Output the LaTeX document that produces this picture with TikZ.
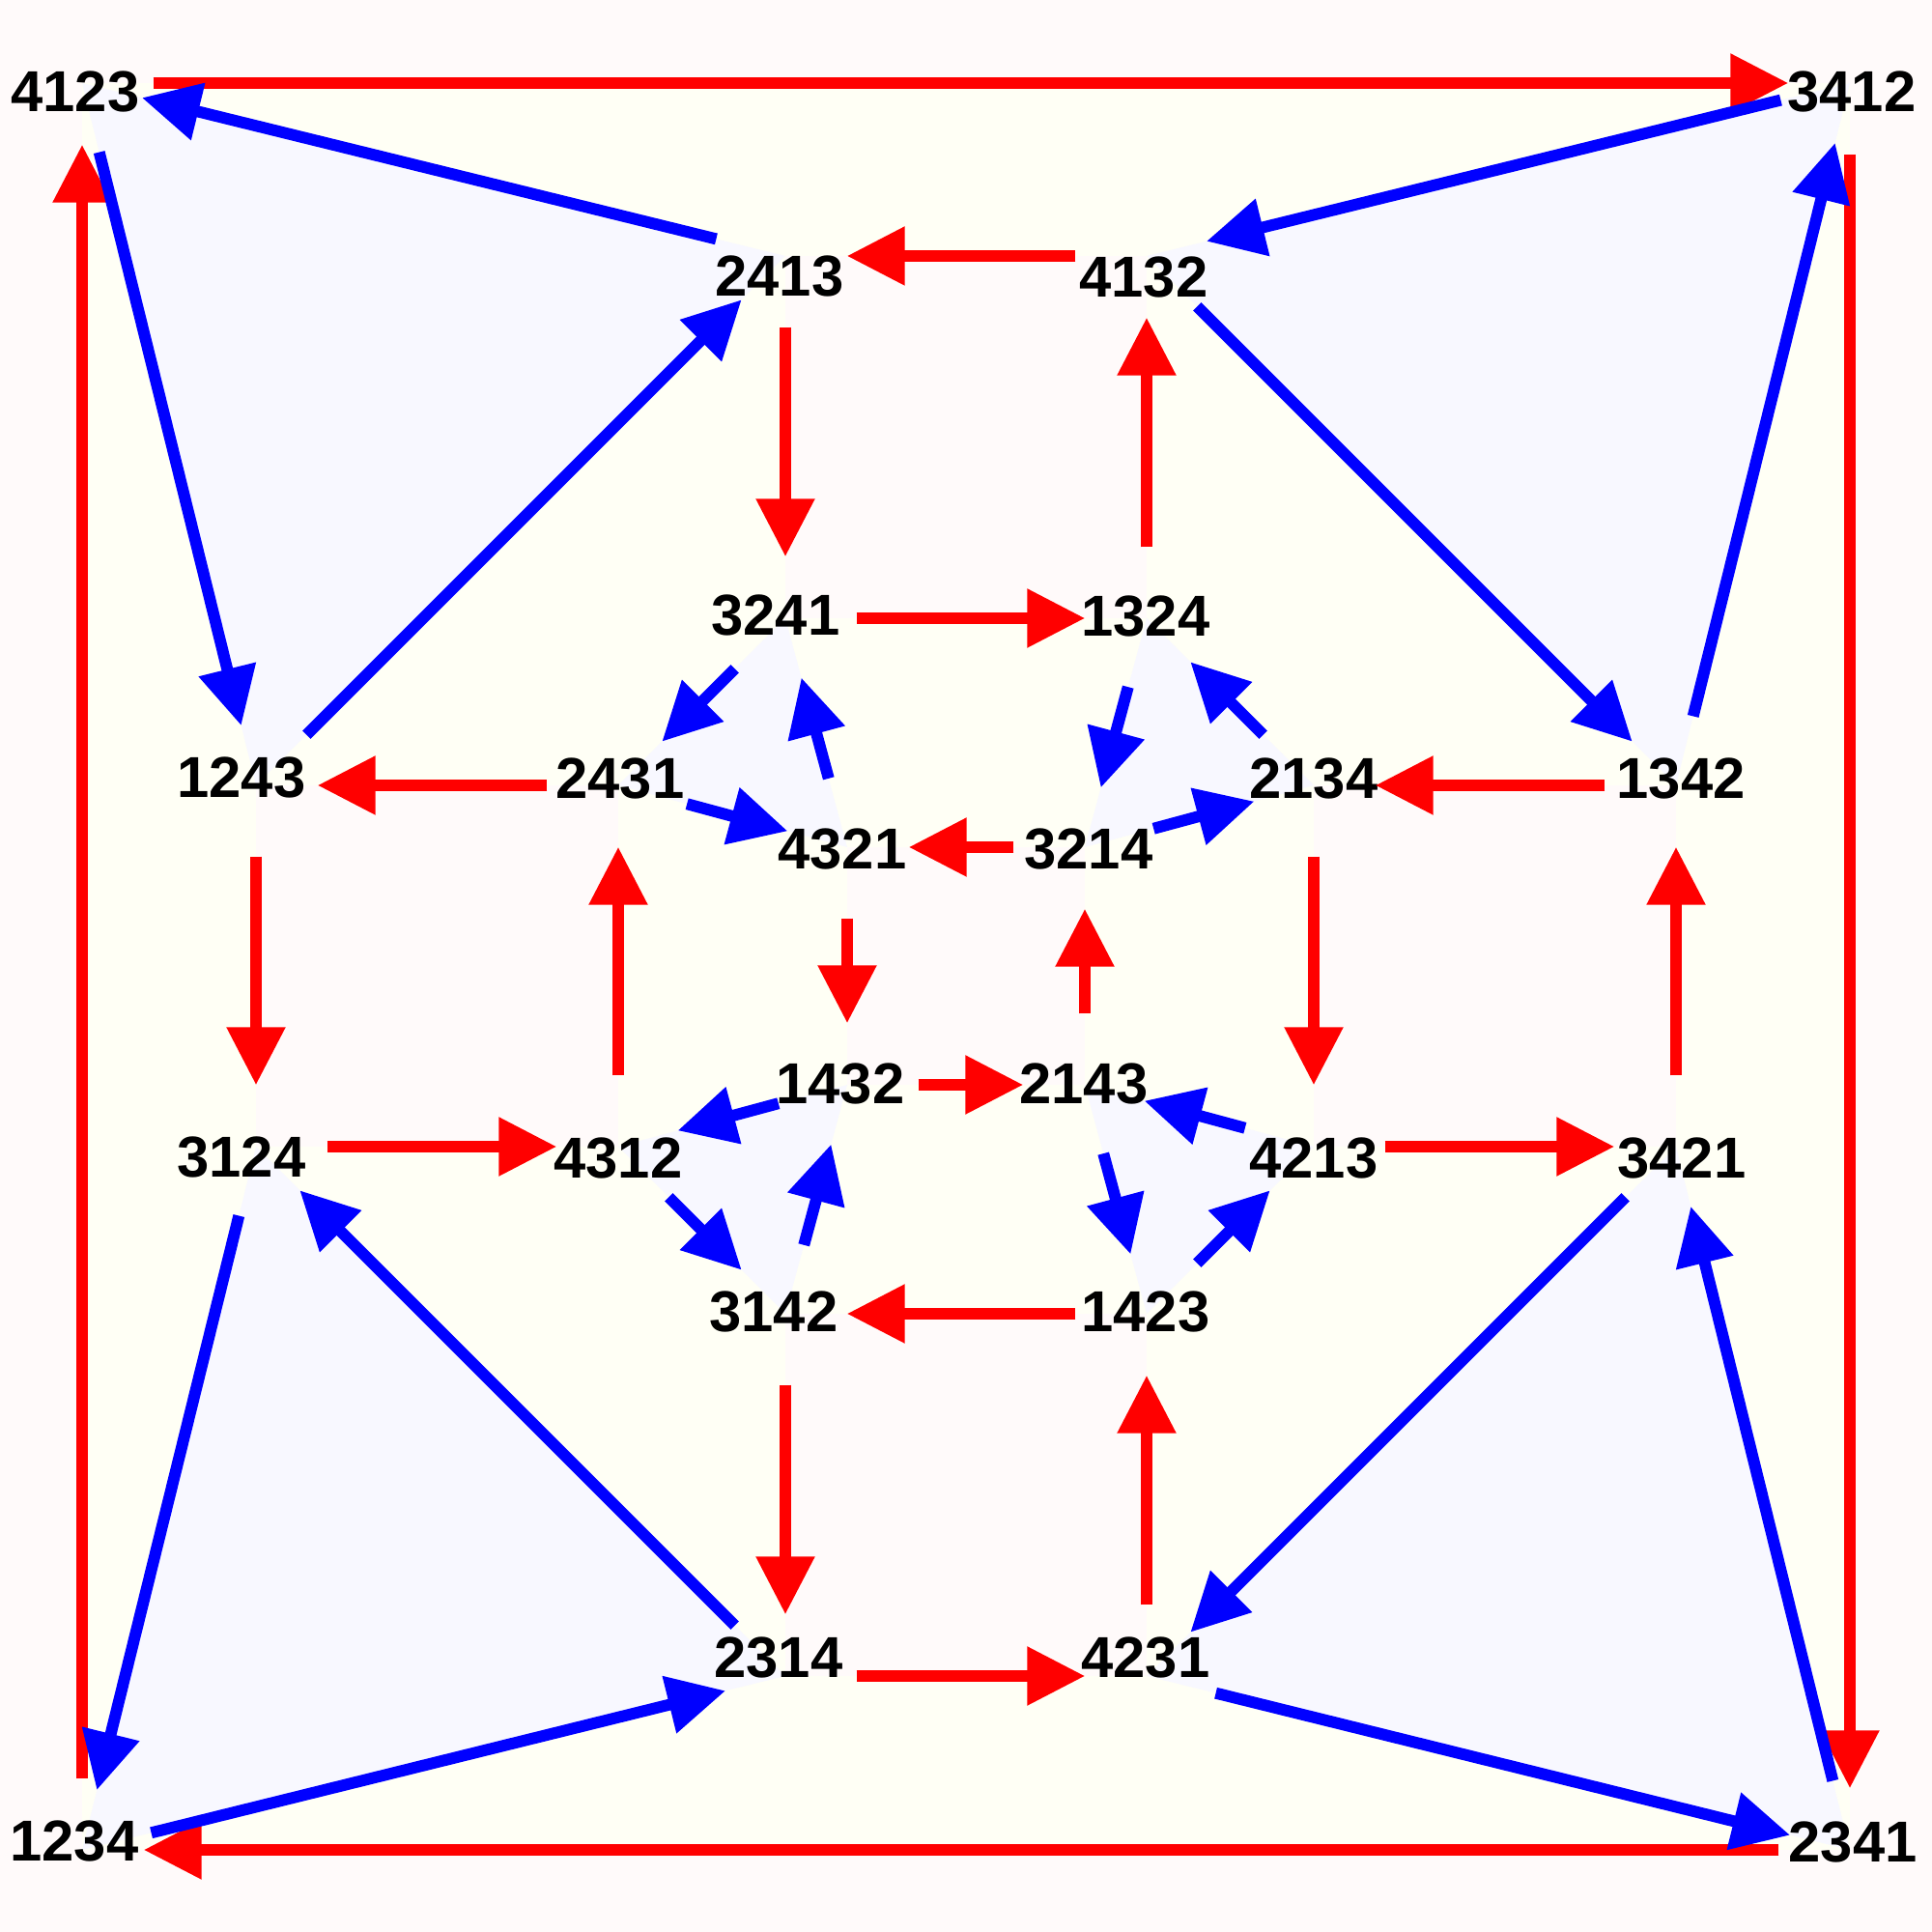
\documentclass[tikz,border=0pt]{standalone}
\usepackage{fontspec}
\setmainfont{Liberation Sans}
\usetikzlibrary{arrows.meta,backgrounds}
\definecolor{snowfill}{HTML}{FFFAFA}
\definecolor{ghostfill}{HTML}{F8F8FF}
\definecolor{ivoryfill}{HTML}{FFFFF5}
\definecolor{redgen}{HTML}{FF0000}
\definecolor{bluegen}{HTML}{0000FF}

\begin{document}
\begin{tikzpicture}[%
    scale=1.0,
    vtx/.style={inner sep=0pt, minimum size=0pt},
    lbl/.style={font=\fontsize{17}{20}\selectfont\bfseries, inner sep=0pt},
    gen/.style={line width=3.4pt, -{Triangle[length=6mm, width=5.8mm]}, shorten <=7.3mm, shorten >=6.3mm},
    redarrow/.style={gen, color=redgen},
    bluearrow/.style={gen, color=bluegen},
    ]
    \useasboundingbox (0,0) rectangle (20,20);
    \node[vtx, label={[lbl, xshift=-0.7mm, yshift=-0.9mm]center:4123}] (p4123) at (0.85,19.14) {};
    \node[vtx, label={[lbl, xshift=0.2mm, yshift=-0.9mm]center:3412}] (p3412) at (19.15,19.14) {};
    \node[vtx, label={[lbl, xshift=-0.8mm, yshift=0.9mm]center:1234}] (p1234) at (0.85,0.85) {};
    \node[vtx, label={[lbl, xshift=0.3mm, yshift=0.8mm]center:2341}] (p2341) at (19.15,0.85) {};
    \node[vtx, label={[lbl, xshift=-0.6mm, yshift=-2.1mm]center:2413}] (p2413) at (8.13,17.35) {};
    \node[vtx, label={[lbl, xshift=-0.3mm, yshift=-2.2mm]center:4132}] (p4132) at (11.87,17.35) {};
    \node[vtx, label={[lbl, xshift=-0.7mm, yshift=1.9mm]center:2314}] (p2314) at (8.13,2.65) {};
    \node[vtx, label={[lbl, xshift=-0.1mm, yshift=1.9mm]center:4231}] (p4231) at (11.87,2.65) {};
    \node[vtx, label={[lbl, xshift=-1.0mm, yshift=0.3mm]center:3241}] (p3241) at (8.13,13.60) {};
    \node[vtx, label={[lbl, xshift=-0.1mm, yshift=0.2mm]center:1324}] (p1324) at (11.87,13.60) {};
    \node[vtx, label={[lbl, xshift=-1.2mm, yshift=0.2mm]center:3142}] (p3142) at (8.13,6.40) {};
    \node[vtx, label={[lbl, xshift=-0.1mm, yshift=0.2mm]center:1423}] (p1423) at (11.87,6.40) {};
    \node[vtx, label={[lbl, xshift=-1.5mm, yshift=0.8mm]center:1243}] (p1243) at (2.65,11.87) {};
    \node[vtx, label={[lbl, xshift=0.2mm, yshift=0.7mm]center:2431}] (p2431) at (6.40,11.87) {};
    \node[vtx, label={[lbl, xshift=0mm, yshift=0.7mm]center:2134}] (p2134) at (13.60,11.87) {};
    \node[vtx, label={[lbl, xshift=0.5mm, yshift=0.7mm]center:1342}] (p1342) at (17.35,11.87) {};
    \node[vtx, label={[lbl, xshift=-1.5mm, yshift=-1.1mm]center:3124}] (p3124) at (2.65,8.13) {};
    \node[vtx, label={[lbl, xshift=0mm, yshift=-1.2mm]center:4312}] (p4312) at (6.40,8.13) {};
    \node[vtx, label={[lbl, xshift=0mm, yshift=-1.2mm]center:4213}] (p4213) at (13.60,8.13) {};
    \node[vtx, label={[lbl, xshift=0.6mm, yshift=-1.2mm]center:3421}] (p3421) at (17.35,8.13) {};
    \node[vtx, label={[lbl, xshift=-0.5mm, yshift=-0.2mm]center:4321}] (p4321) at (8.77,11.23) {};
    \node[vtx, label={[lbl, xshift=0.4mm, yshift=-0.2mm]center:3214}] (p3214) at (11.23,11.23) {};
    \node[vtx, label={[lbl, xshift=-0.7mm, yshift=0.1mm]center:1432}] (p1432) at (8.77,8.77) {};
    \node[vtx, label={[lbl, xshift=-0.1mm, yshift=0.1mm]center:2143}] (p2143) at (11.23,8.77) {};
    \begin{scope}[on background layer]
    \fill[snowfill] (0,0) rectangle (20,20);
    \fill[ivoryfill] (p4123.center) -- (p3412.center) -- (p2341.center) -- (p1234.center) -- cycle;
    \fill[ghostfill] (p4123.center) -- (p2413.center) -- (p1243.center) -- cycle;
    \fill[ghostfill] (p3412.center) -- (p4132.center) -- (p1342.center) -- cycle;
    \fill[ghostfill] (p1234.center) -- (p2314.center) -- (p3124.center) -- cycle;
    \fill[ghostfill] (p2341.center) -- (p4231.center) -- (p3421.center) -- cycle;
    \fill[ghostfill] (p3241.center) -- (p2431.center) -- (p4321.center) -- cycle;
    \fill[ghostfill] (p1324.center) -- (p3214.center) -- (p2134.center) -- cycle;
    \fill[ghostfill] (p1432.center) -- (p4312.center) -- (p3142.center) -- cycle;
    \fill[ghostfill] (p2143.center) -- (p1423.center) -- (p4213.center) -- cycle;
    \fill[snowfill] (p4132.center) -- (p2413.center) -- (p3241.center) -- (p1324.center) -- cycle;
    \fill[snowfill] (p2431.center) -- (p1243.center) -- (p3124.center) -- (p4312.center) -- cycle;
    \fill[snowfill] (p1342.center) -- (p2134.center) -- (p4213.center) -- (p3421.center) -- cycle;
    \fill[snowfill] (p1423.center) -- (p3142.center) -- (p2314.center) -- (p4231.center) -- cycle;
    \fill[snowfill] (p3214.center) -- (p4321.center) -- (p1432.center) -- (p2143.center) -- cycle;
    \end{scope}
    \draw[redarrow] (p4123) -- (p3412);
    \draw[redarrow] (p3412) -- (p2341);
    \draw[redarrow] (p2341) -- (p1234);
    \draw[redarrow] (p1234) -- (p4123);
    \draw[redarrow] (p4132) -- (p2413);
    \draw[redarrow] (p2413) -- (p3241);
    \draw[redarrow] (p3241) -- (p1324);
    \draw[redarrow] (p1324) -- (p4132);
    \draw[redarrow] (p2431) -- (p1243);
    \draw[redarrow] (p1243) -- (p3124);
    \draw[redarrow] (p3124) -- (p4312);
    \draw[redarrow] (p4312) -- (p2431);
    \draw[redarrow] (p1342) -- (p2134);
    \draw[redarrow] (p2134) -- (p4213);
    \draw[redarrow] (p4213) -- (p3421);
    \draw[redarrow] (p3421) -- (p1342);
    \draw[redarrow] (p3214) -- (p4321);
    \draw[redarrow] (p4321) -- (p1432);
    \draw[redarrow] (p1432) -- (p2143);
    \draw[redarrow] (p2143) -- (p3214);
    \draw[redarrow] (p1423) -- (p3142);
    \draw[redarrow] (p3142) -- (p2314);
    \draw[redarrow] (p2314) -- (p4231);
    \draw[redarrow] (p4231) -- (p1423);
    \draw[bluearrow] (p2413) -- (p4123);
    \draw[bluearrow] (p4123) -- (p1243);
    \draw[bluearrow] (p1243) -- (p2413);
    \draw[bluearrow] (p3412) -- (p4132);
    \draw[bluearrow] (p4132) -- (p1342);
    \draw[bluearrow] (p1342) -- (p3412);
    \draw[bluearrow] (p3124) -- (p1234);
    \draw[bluearrow] (p1234) -- (p2314);
    \draw[bluearrow] (p2314) -- (p3124);
    \draw[bluearrow] (p3421) -- (p4231);
    \draw[bluearrow] (p4231) -- (p2341);
    \draw[bluearrow] (p2341) -- (p3421);
    \draw[bluearrow] (p3241) -- (p2431);
    \draw[bluearrow] (p2431) -- (p4321);
    \draw[bluearrow] (p4321) -- (p3241);
    \draw[bluearrow] (p1324) -- (p3214);
    \draw[bluearrow] (p3214) -- (p2134);
    \draw[bluearrow] (p2134) -- (p1324);
    \draw[bluearrow] (p1432) -- (p4312);
    \draw[bluearrow] (p4312) -- (p3142);
    \draw[bluearrow] (p3142) -- (p1432);
    \draw[bluearrow] (p2143) -- (p1423);
    \draw[bluearrow] (p1423) -- (p4213);
    \draw[bluearrow] (p4213) -- (p2143);
    \end{tikzpicture}
\end{document}
